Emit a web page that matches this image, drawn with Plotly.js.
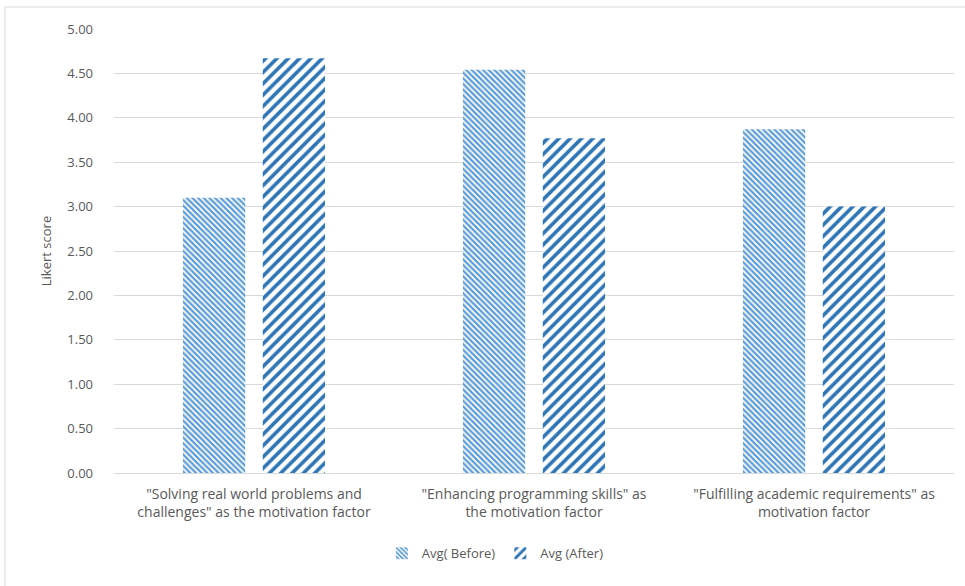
<!DOCTYPE html>
<html>
<head>
<meta charset="utf-8">
<script src="https://cdn.plot.ly/plotly-3.0.1.min.js"></script>
<style>html,body{margin:0;padding:0;background:#fff;}#chart{width:965px;height:586px;}</style>
</head>
<body>
<div id="chart"></div>
<script>
const categories = [
  '"Solving real world problems and<br>challenges" as the motivation factor',
  '"Enhancing programming skills" as<br>the motivation factor',
  '"Fulfilling academic requirements" as<br>motivation factor'
];
const seriesNames = ['Avg( Before)', 'Avg (After)'];
const before = [3.10, 4.54, 3.87];
const after = [4.67, 3.77, 3.00];
const yTicks = [0, 0.5, 1, 1.5, 2, 2.5, 3, 3.5, 4, 4.5, 5];
const yTickText = ['0.00','0.50','1.00','1.50','2.00','2.50','3.00','3.50','4.00','4.50','5.00'];

const font = '"Open Sans", "Liberation Sans", sans-serif';

const traces = [
  {
    type: 'bar', name: seriesNames[0], x: categories, y: before,
    marker: {
      color: '#5B9BD5',
      line: {width: 0},
      pattern: {shape: '\\', fgcolor: '#5B9BD5', bgcolor: '#ffffff', size: 4, solidity: 0.55}
    },
    hoverinfo: 'y'
  },
  {
    type: 'bar', name: seriesNames[1], x: categories, y: after,
    marker: {
      color: '#2E75B6',
      line: {width: 0},
      pattern: {shape: '/', fgcolor: '#2E75B6', bgcolor: '#ffffff', size: 8, solidity: 0.45}
    },
    hoverinfo: 'y'
  }
];

const layout = {
  width: 965, height: 586,
  margin: {l: 114, r: 11, t: 29, b: 113},
  paper_bgcolor: '#ffffff', plot_bgcolor: '#ffffff',
  font: {family: font, size: 13, color: '#595959'},
  barmode: 'group', bargap: 0.43, bargroupgap: 0.22,
  showlegend: true,
  legend: {orientation: 'h', x: 0.454, xanchor: 'center', y: -0.147, yanchor: 'top',
           font: {size: 13, color: '#595959'}, traceorder: 'normal'},
  xaxis: {
    showgrid: false, zeroline: false, showline: true, linecolor: '#d9d9d9', linewidth: 1,
    ticks: '', ticklabelstandoff: 8, tickfont: {size: 14, color: '#595959'}, automargin: false
  },
  yaxis: {
    range: [0, 5], tickvals: yTicks, ticktext: yTickText,
    showgrid: true, gridcolor: '#d9d9d9', gridwidth: 1, zeroline: false,
    showline: false, ticks: '', ticklabelstandoff: 20,
    tickfont: {size: 13, color: '#595959'},
    title: {text: 'Likert score', font: {size: 13, color: '#595959'}, standoff: 12},
    automargin: false
  },
  shapes: [
    {type: 'line', xref: 'paper', yref: 'paper', x0: -0.1298, x1: 1.02, y0: 1.0495, y1: 1.0495,
     line: {color: '#d9d9d9', width: 1}},
    {type: 'line', xref: 'paper', yref: 'paper', x0: -0.1298, x1: -0.1298, y0: 1.0495, y1: -0.27,
     line: {color: '#d9d9d9', width: 1}}
  ]
};

Plotly.newPlot('chart', traces, layout, {displayModeBar: false, staticPlot: true});
</script>
</body>
</html>
